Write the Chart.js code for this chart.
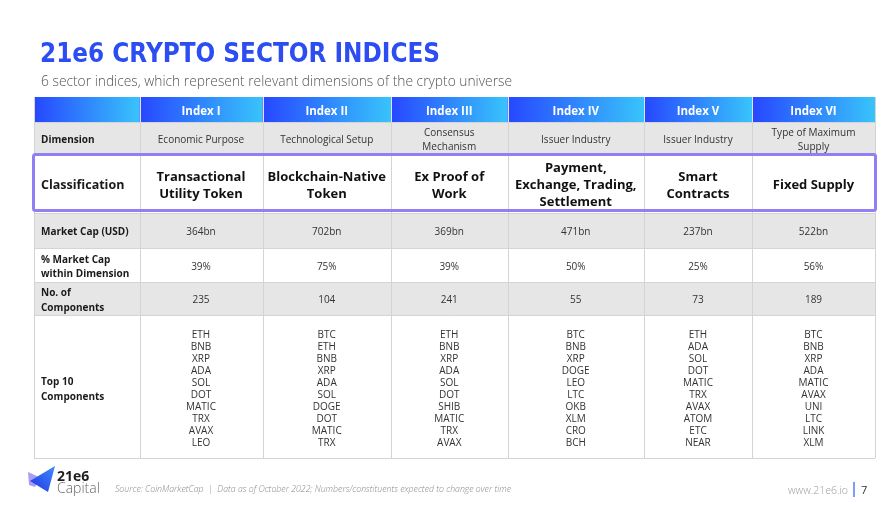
<!DOCTYPE html>
<html>
<head>
<meta charset="utf-8">
<script src="https://cdn.jsdelivr.net/npm/chart.js@4"></script>
<style>
html,body{margin:0;padding:0;background:#fff;}
#wrap{width:896px;height:510px;position:relative;}
</style>
</head>
<body>
<div id="wrap"><canvas id="c"></canvas></div>
<script>
// ---------- DATA ----------
const indexNames = ["Index I","Index II","Index III","Index IV","Index V","Index VI"];
const rowLabels = ["", "Dimension", "Classification", "Market Cap (USD)", "% Market Cap\nwithin Dimension", "No. of\nComponents", "Top 10\nComponents"];
const dimensions = ["Economic Purpose","Technological Setup","Consensus\nMechanism","Issuer Industry","Issuer Industry","Type of Maximum\nSupply"];
const classifications = ["Transactional\nUtility Token","Blockchain-Native\nToken","Ex Proof of\nWork","Payment,\nExchange, Trading,\nSettlement","Smart\nContracts","Fixed Supply"];
const marketCapBn = [364,702,369,471,237,522];
const pctMarketCap = [39,75,39,50,25,56];
const numComponents = [235,104,241,55,73,189];
const top10 = [
  ["ETH","BNB","XRP","ADA","SOL","DOT","MATIC","TRX","AVAX","LEO"],
  ["BTC","ETH","BNB","XRP","ADA","SOL","DOGE","DOT","MATIC","TRX"],
  ["ETH","BNB","XRP","ADA","SOL","DOT","SHIB","MATIC","TRX","AVAX"],
  ["BTC","BNB","XRP","DOGE","LEO","LTC","OKB","XLM","CRO","BCH"],
  ["ETH","ADA","SOL","DOT","MATIC","TRX","AVAX","ATOM","ETC","NEAR"],
  ["BTC","BNB","XRP","ADA","MATIC","AVAX","UNI","LTC","LINK","XLM"]
];
const titleText = "21e6 CRYPTO SECTOR INDICES";
const subtitleText = "6 sector indices, which represent relevant dimensions of the crypto universe";
const sourceText = "Source: CoinMarketCap  |  Data as of October 2022; Numbers/constituents expected to change over time";

// ---------- LAYOUT (table units on the hidden linear scales) ----------
const colEdges = [0,105.5,228.5,357,473.5,610,718,841];
const rowEdges = [0,25,57,116,151,185,218,361];

const FONT = "'Open Sans', 'Noto Sans', sans-serif";
const TEXT_SHIFT = 2;

function drawLines(ctx, text, x, cy, lh, font, color, align) {
  const lines = Array.isArray(text) ? text : String(text).split("\n");
  ctx.font = font; ctx.fillStyle = color; ctx.textAlign = align || "center"; ctx.textBaseline = "middle";
  const start = cy + TEXT_SHIFT - (lines.length - 1) * lh / 2;
  lines.forEach((l, i) => ctx.fillText(l, x, start + i * lh));
}

const tablePlugin = {
  id: "tablePlugin",
  afterDraw(chart) {
    const ctx = chart.ctx;
    const xs = chart.scales.x, ys = chart.scales.y;
    const X = colEdges.map(v => xs.getPixelForValue(v));
    const Y = rowEdges.map(v => ys.getPixelForValue(v));
    ctx.save();
    // Title
    ctx.font = "bold 26px 'DejaVu Sans', sans-serif";
    ctx.textBaseline = "alphabetic"; ctx.textAlign = "left";
    const tw = ctx.measureText(titleText).width;
    ctx.save(); ctx.translate(40, 62); ctx.scale(400 / tw, 1);
    ctx.fillStyle = "#2c4df2"; ctx.fillText(titleText, 0, 0); ctx.restore();
    // Subtitle
    ctx.font = "300 14px " + FONT;
    const sw = ctx.measureText(subtitleText).width;
    ctx.save(); ctx.translate(41, 86); ctx.scale(471 / sw, 1);
    ctx.fillStyle = "#555"; ctx.fillText(subtitleText, 0, 0); ctx.restore();

    // Row backgrounds
    const rowBg = ["", "#e6e6e6", "#ffffff", "#e6e6e6", "#ffffff", "#e6e6e6", "#ffffff"];
    for (let r = 1; r < rowEdges.length; r++) {
      ctx.fillStyle = rowBg[r];
      ctx.fillRect(X[0], Y[r], X[X.length - 1] - X[0], Y[r + 1] - Y[r]);
    }
    // Header cells with gradient
    for (let c = 0; c < colEdges.length - 1; c++) {
      const g = ctx.createLinearGradient(X[c], 0, X[c + 1], 0);
      g.addColorStop(0, "#2747ff"); g.addColorStop(1, "#38c4fb");
      ctx.fillStyle = g;
      ctx.fillRect(X[c], Y[0], X[c + 1] - X[c], Y[1] - Y[0]);
    }
    // Grid lines
    ctx.strokeStyle = "#d4d4d4"; ctx.lineWidth = 1;
    for (let c = 0; c < X.length; c++) {
      ctx.beginPath(); ctx.moveTo(Math.round(X[c]) + 0.5, Y[0]); ctx.lineTo(Math.round(X[c]) + 0.5, Y[Y.length - 1]); ctx.stroke();
    }
    for (let r = 1; r < Y.length; r++) {
      ctx.beginPath(); ctx.moveTo(X[0], Math.round(Y[r]) + 0.5); ctx.lineTo(X[X.length - 1], Math.round(Y[r]) + 0.5); ctx.stroke();
    }
    ctx.strokeStyle = "rgba(255,255,255,0.35)";
    for (let c = 1; c < X.length - 1; c++) {
      ctx.beginPath(); ctx.moveTo(Math.round(X[c]) + 0.5, Y[0]); ctx.lineTo(Math.round(X[c]) + 0.5, Y[1]); ctx.stroke();
    }

    const cx = c => (X[c + 1] + X[c + 2]) / 2;
    const cy = r => (Y[r] + Y[r + 1]) / 2;
    indexNames.forEach((t, i) => drawLines(ctx, t, cx(i), cy(0), 14, "bold 11.5px " + FONT, "#ffffff"));
    rowLabels.forEach((t, r) => {
      if (!t) return;
      const f = r === 2 ? "bold 12.5px " + FONT : "bold 10px " + FONT;
      drawLines(ctx, t, X[0] + 7, cy(r) + (r === 6 ? 1 : 0), 14.5, f, "#1a1a1a", "left");
    });
    dimensions.forEach((t, i) => drawLines(ctx, t, cx(i), cy(1), 14.5, "10px " + FONT, "#333"));
    classifications.forEach((t, i) => drawLines(ctx, t, cx(i), cy(2), 17, "bold 13px " + FONT, "#111"));
    marketCapBn.forEach((v, i) => drawLines(ctx, v + "bn", cx(i), cy(3), 14, "10px " + FONT, "#333"));
    pctMarketCap.forEach((v, i) => drawLines(ctx, v + "%", cx(i), cy(4), 14, "10px " + FONT, "#333"));
    numComponents.forEach((v, i) => drawLines(ctx, String(v), cx(i), cy(5), 14, "10px " + FONT, "#333"));
    top10.forEach((list, i) => drawLines(ctx, list, cx(i), cy(6) + 1, 12, "10px " + FONT, "#333"));

    // Purple highlight box
    ctx.strokeStyle = "#8f80f5"; ctx.lineWidth = 3;
    ctx.beginPath();
    if (ctx.roundRect) ctx.roundRect(X[0] - 0.5, Y[2] + 0.5, X[X.length - 1] - X[0] + 1, Y[3] - Y[2] - 3, 2);
    else ctx.rect(X[0] - 0.5, Y[2] + 0.5, X[X.length - 1] - X[0] + 1, Y[3] - Y[2] - 3);
    ctx.stroke();

    // Footer logo
    ctx.fillStyle = "#a99cf2";
    ctx.beginPath(); ctx.moveTo(28, 472); ctx.lineTo(41, 478); ctx.lineTo(35, 487); ctx.lineTo(29, 485); ctx.closePath(); ctx.fill();
    const lg = ctx.createLinearGradient(30, 490, 55, 466);
    lg.addColorStop(0, "#2238e0"); lg.addColorStop(1, "#3f8cff");
    ctx.fillStyle = lg;
    ctx.beginPath(); ctx.moveTo(30, 481); ctx.lineTo(55, 466); ctx.lineTo(48, 492); ctx.closePath(); ctx.fill();
    ctx.textAlign = "left"; ctx.textBaseline = "alphabetic";
    ctx.font = "bold 14px " + FONT; ctx.fillStyle = "#1f1f1f"; ctx.fillText("21e6", 57, 481);
    ctx.font = "300 14px " + FONT; ctx.fillStyle = "#666"; ctx.fillText("Capital", 57, 493);
    ctx.font = "italic 300 9px " + FONT;
    const srw = ctx.measureText(sourceText).width;
    ctx.save(); ctx.translate(115, 492); ctx.scale(396 / srw, 1);
    ctx.fillStyle = "#8a8a8a"; ctx.fillText(sourceText, 0, 0); ctx.restore();
    ctx.font = "300 10.5px " + FONT; ctx.fillStyle = "#9a9a9a"; ctx.textAlign = "right";
    ctx.fillText("www.21e6.io", 848, 494);
    ctx.fillStyle = "#7e9cff"; ctx.fillRect(853, 482, 2, 15);
    ctx.textAlign = "left"; ctx.font = "11px " + FONT; ctx.fillStyle = "#333"; ctx.fillText("7", 861, 494);
    ctx.restore();
  }
};

new Chart(document.getElementById("c"), {
  type: "scatter",
  data: { datasets: [{ data: [], pointRadius: 0 }] },
  options: {
    responsive: true,
    maintainAspectRatio: false,
    animation: false,
    events: [],
    layout: { padding: { left: 34, right: 21, top: 97, bottom: 52 } },
    plugins: { legend: { display: false }, tooltip: { enabled: false }, title: { display: false } },
    scales: {
      x: { type: "linear", min: 0, max: 841, display: false },
      y: { type: "linear", min: 0, max: 361, reverse: true, display: false }
    }
  },
  plugins: [tablePlugin]
});
</script>
</body>
</html>
